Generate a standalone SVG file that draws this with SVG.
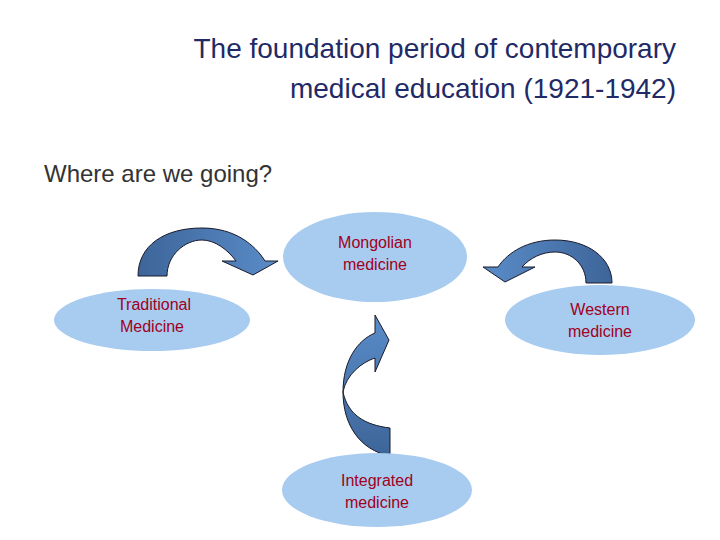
<svg xmlns="http://www.w3.org/2000/svg" width="720" height="540" viewBox="0 0 720 540">
<defs>
<style>
.t{font-family:"Liberation Sans",Arial,sans-serif}
.n{fill:#a8cbf0}
.l{font-family:"Liberation Sans",Arial,sans-serif;font-size:16px;fill:#a0001c;text-anchor:middle}
.a{stroke:#1a1a2a;stroke-width:1}
</style>
<linearGradient id="g" x1="0" y1="0" x2="1" y2="0"><stop offset="0" stop-color="#3d6599"/><stop offset="1" stop-color="#5a8cc8"/></linearGradient>
<linearGradient id="g2" x1="1" y1="0" x2="0" y2="0"><stop offset="0" stop-color="#3d6599"/><stop offset="1" stop-color="#5a8cc8"/></linearGradient>
<linearGradient id="g3" x1="0" y1="1" x2="0" y2="0"><stop offset="0" stop-color="#3d6599"/><stop offset="1" stop-color="#5a8cc8"/></linearGradient>
</defs>
<rect width="720" height="540" fill="#fff"/>
<text class="t" x="676" y="58" font-size="28" fill="#1f2a66" text-anchor="end">The foundation period of contemporary</text>
<text class="t" x="676" y="98" font-size="28" fill="#1f2a66" text-anchor="end">medical education (1921-1942)</text>
<text class="t" x="44" y="182" font-size="24" fill="#333">Where are we going?</text>
<g id="connectors">
<path class="a" fill="url(#g)" d="M138,276 C138,245 165,228 202,228 C235,228 255,245 265,261 L278,261 L253,275 L222,261 L236,261 C228,250 215,240 202,240 C185,240 167,255 167,276 Z"/>
<path class="a" fill="url(#g2)" d="M612,283 C612,258 588,240 555,240 C528,240 508,252 498,267 L483,267 L505,282 L535,267 L522,267 C530,258 542,252 555,252 C572,252 586,265 586,283 Z"/>
<path class="a" fill="url(#g3)" d="M390,456 C360,450 343,425 343,392 C343,360 358,340 375,333 L375,315 L389,340 L375,372 L375,358 C362,362 346,375 343,392 C348,415 365,425 390,428 Z"/>
</g>
<g id="mongolian"><ellipse class="n" cx="375" cy="257" rx="92" ry="45"/><text class="l" x="375" y="248">Mongolian</text><text class="l" x="375" y="270">medicine</text></g>
<g id="traditional"><ellipse class="n" cx="152" cy="320" rx="98" ry="31"/><text class="l" x="154" y="310">Traditional</text><text class="l" x="152" y="332">Medicine</text></g>
<g id="western"><ellipse class="n" cx="600" cy="320" rx="95" ry="35"/><text class="l" x="600" y="315">Western</text><text class="l" x="600" y="337">medicine</text></g>
<g id="integrated"><ellipse class="n" cx="377" cy="490" rx="95" ry="37"/><text class="l" x="377" y="486">Integrated</text><text class="l" x="377" y="508">medicine</text></g>
</svg>
